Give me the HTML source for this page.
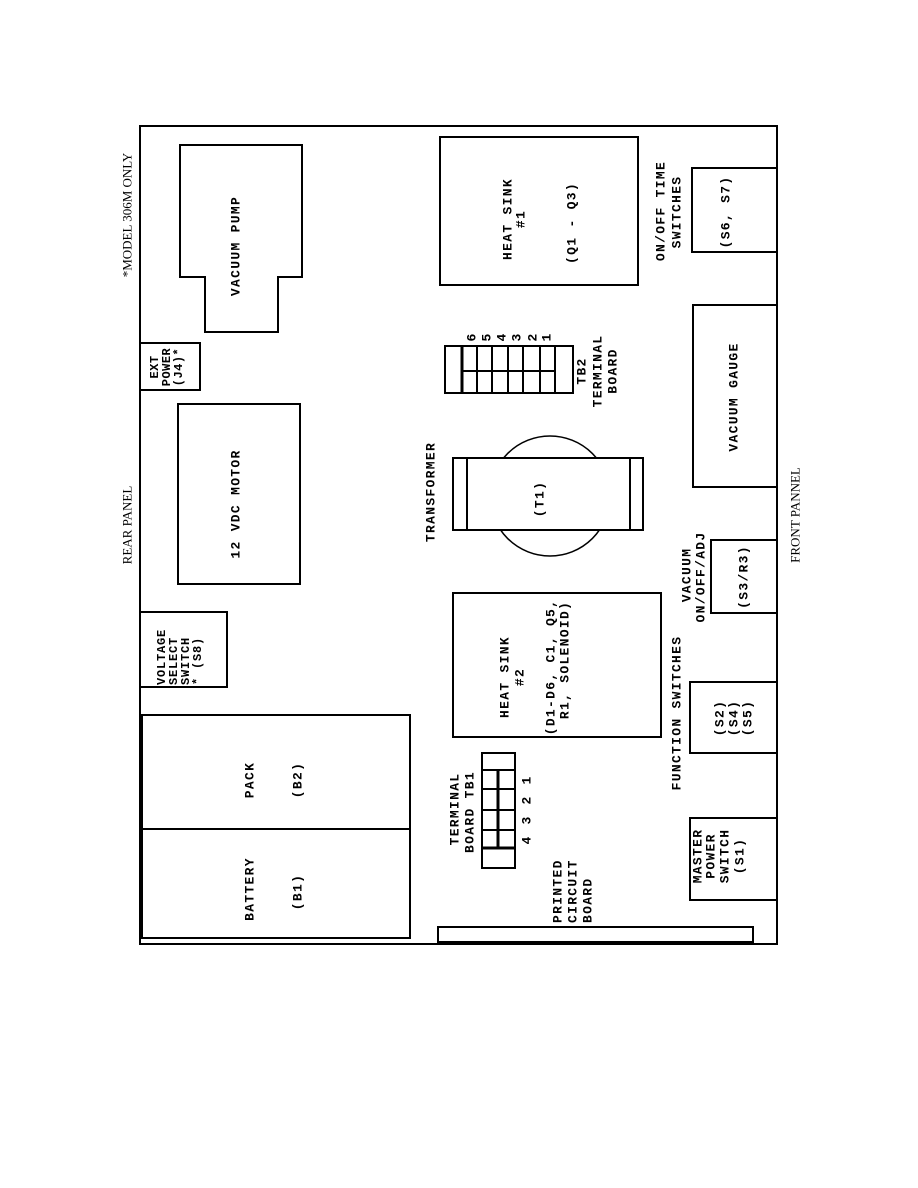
<!DOCTYPE html>
<html><head><meta charset="utf-8"><style>
html,body{margin:0;padding:0;background:#fff}
svg{display:block}
text{font-family:"Liberation Mono",monospace;font-weight:bold;font-size:13px;letter-spacing:1.3px;fill:#000}
.s{font-family:"Liberation Serif",serif;font-weight:normal;font-size:13px;letter-spacing:0}
</style></head><body>
<svg width="918" height="1188" viewBox="0 0 918 1188" xmlns="http://www.w3.org/2000/svg">
<g fill="none" stroke="#000" stroke-width="2">
<rect x="140" y="126" width="637" height="818"/>
<path d="M180 145 H302 V277 H278 V332 H205 V277 H180 Z"/>
<rect x="440" y="137" width="198" height="148"/>
<rect x="692" y="168" width="85" height="84"/>
<rect x="693" y="305" width="84" height="182"/>
<rect x="140" y="343" width="60" height="47"/>
<rect x="178" y="404" width="122" height="180"/>
<circle cx="550" cy="496" r="60" stroke-width="1.5"/>
<rect x="453" y="458" width="190" height="72" fill="#fff"/>
<line x1="467" y1="458" x2="467" y2="530"/>
<line x1="630" y1="458" x2="630" y2="530"/>
<rect x="445" y="346" width="128" height="47"/>
<line x1="462" y1="346" x2="462" y2="393" stroke-width="3"/>
<line x1="477" y1="346" x2="477" y2="393"/>
<line x1="492" y1="346" x2="492" y2="393"/>
<line x1="508" y1="346" x2="508" y2="393"/>
<line x1="523" y1="346" x2="523" y2="393"/>
<line x1="540" y1="346" x2="540" y2="393"/>
<line x1="555" y1="346" x2="555" y2="393"/>
<line x1="462" y1="371" x2="555" y2="371"/>
<rect x="453" y="593" width="208" height="144"/>
<rect x="711" y="540" width="66" height="73"/>
<rect x="690" y="682" width="87" height="71"/>
<rect x="690" y="818" width="87" height="82"/>
<rect x="140" y="612" width="87" height="75"/>
<rect x="142" y="715" width="268" height="223"/>
<line x1="142" y1="829" x2="410" y2="829"/>
<rect x="482" y="753" width="33" height="115"/>
<line x1="498" y1="770" x2="498" y2="848" stroke-width="3"/>
<line x1="482" y1="770" x2="515" y2="770"/>
<line x1="482" y1="789" x2="515" y2="789"/>
<line x1="482" y1="810" x2="515" y2="810"/>
<line x1="482" y1="830" x2="515" y2="830"/>
<line x1="482" y1="848" x2="515" y2="848" stroke-width="3"/>
<rect x="438" y="927" width="315" height="15"/>
</g>
<g text-anchor="middle" dominant-baseline="central">
<text class="s" transform="translate(127,215) rotate(-90)">*MODEL 306M ONLY</text>
<text class="s" transform="translate(127,525) rotate(-90)">REAR PANEL</text>
<text class="s" transform="translate(795,515) rotate(-90)">FRONT PANNEL</text>
<text transform="translate(236,246) rotate(-90)">VACUUM PUMP</text>
<text transform="translate(508,219) rotate(-90)">HEAT SINK</text>
<text transform="translate(521,219) rotate(-90)">#1</text>
<text transform="translate(572,223) rotate(-90)">(Q1 - Q3)</text>
<text transform="translate(661,211) rotate(-90)">ON/OFF TIME</text>
<text transform="translate(677,212) rotate(-90)">SWITCHES</text>
<text transform="translate(726,212) rotate(-90)">(S6, S7)</text>
<text transform="translate(734,397) rotate(-90)">VACUUM GAUGE</text>
<text transform="translate(472,337) rotate(-90)">6</text>
<text transform="translate(487,337) rotate(-90)">5</text>
<text transform="translate(502,337) rotate(-90)">4</text>
<text transform="translate(517,337) rotate(-90)">3</text>
<text transform="translate(533,337) rotate(-90)">2</text>
<text transform="translate(547,337) rotate(-90)">1</text>
<text transform="translate(582,371) rotate(-90)">TB2</text>
<text transform="translate(598,371) rotate(-90)">TERMINAL</text>
<text transform="translate(613,371) rotate(-90)">BOARD</text>
<text transform="translate(155,367) rotate(-90)" style="font-size:12px;letter-spacing:0.5px">EXT</text>
<text transform="translate(167,367) rotate(-90)" style="font-size:12px;letter-spacing:0.5px">POWER</text>
<text transform="translate(179,367) rotate(-90)" style="font-size:12px;letter-spacing:0.5px">(J4)*</text>
<text transform="translate(236,504) rotate(-90)">12 VDC MOTOR</text>
<text transform="translate(431,492) rotate(-90)">TRANSFORMER</text>
<text transform="translate(540,499) rotate(-90)">(T1)</text>
<text transform="translate(687,575) rotate(-90)">VACUUM</text>
<text transform="translate(701,577) rotate(-90)">ON/OFF/ADJ</text>
<text transform="translate(744,577) rotate(-90)">(S3/R3)</text>
<text transform="translate(505,677) rotate(-90)">HEAT SINK</text>
<text transform="translate(520,677) rotate(-90)">#2</text>
<text transform="translate(551,667) rotate(-90)">(D1-D6, C1, Q5,</text>
<text transform="translate(565,660) rotate(-90)">R1, SOLENOID)</text>
<text transform="translate(677,713) rotate(-90)">FUNCTION SWITCHES</text>
<text transform="translate(720,718) rotate(-90)">(S2)</text>
<text transform="translate(734,718) rotate(-90)">(S4)</text>
<text transform="translate(748,718) rotate(-90)">(S5)</text>
<text transform="translate(698,856) rotate(-90)">MASTER</text>
<text transform="translate(711,856) rotate(-90)">POWER</text>
<text transform="translate(725,856) rotate(-90)">SWITCH</text>
<text transform="translate(740,856) rotate(-90)">(S1)</text>
<text transform="translate(250,780) rotate(-90)">PACK</text>
<text transform="translate(298,780) rotate(-90)">(B2)</text>
<text transform="translate(250,889) rotate(-90)">BATTERY</text>
<text transform="translate(298,892) rotate(-90)">(B1)</text>
<text transform="translate(455,809) rotate(-90)">TERMINAL</text>
<text transform="translate(470,812) rotate(-90)">BOARD TB1</text>
<text transform="translate(527,840) rotate(-90)">4</text>
<text transform="translate(527,820) rotate(-90)">3</text>
<text transform="translate(527,800) rotate(-90)">2</text>
<text transform="translate(527,780) rotate(-90)">1</text>
</g>
<g text-anchor="start" dominant-baseline="central">
<text transform="translate(162,685) rotate(-90)" style="font-size:12px;letter-spacing:0.8px">VOLTAGE</text>
<text transform="translate(174,685) rotate(-90)" style="font-size:12px;letter-spacing:0.8px">SELECT</text>
<text transform="translate(186,685) rotate(-90)" style="font-size:12px;letter-spacing:0.8px">SWITCH</text>
<text transform="translate(198,685) rotate(-90)" style="font-size:12px;letter-spacing:0.8px">* (S8)</text>
<text transform="translate(558,923) rotate(-90)">PRINTED</text>
<text transform="translate(573,923) rotate(-90)">CIRCUIT</text>
<text transform="translate(588,923) rotate(-90)">BOARD</text>
</g>
</svg>
</body></html>
